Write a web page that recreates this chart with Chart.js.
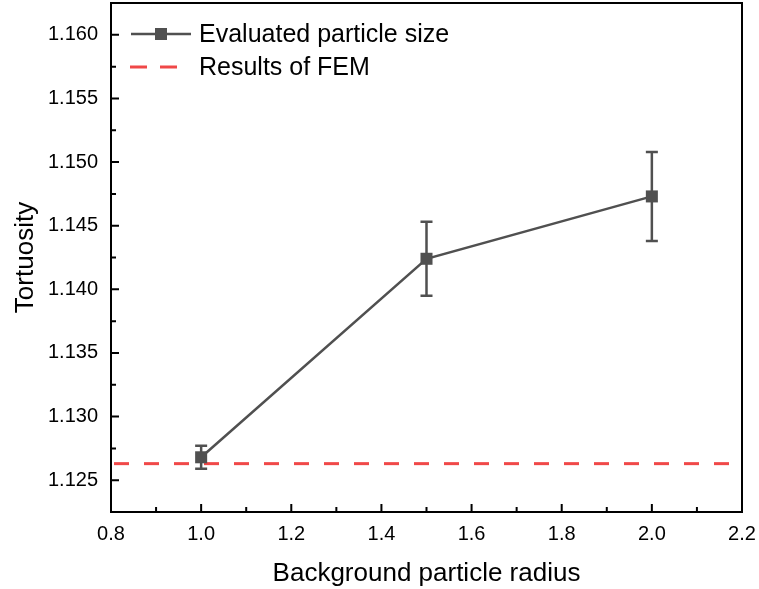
<!DOCTYPE html>
<html>
<head>
<meta charset="utf-8">
<script src="https://cdn.jsdelivr.net/npm/chart.js@4.4.0/dist/chart.umd.min.js"></script>
<style>
  html, body { margin: 0; padding: 0; background: #fff; }
  canvas { display: block; }
</style>
</head>
<body>
<canvas id="myChart" width="759" height="589"></canvas>
<script>
// background particle radius and evaluated tortuosity (mean +/- error)
var radius = [1.0, 1.5, 2.0];
var tortuosity = [1.1268, 1.1424, 1.1473];
var tortuosityErr = [0.0009, 0.0029, 0.0035];
var femValue = 1.1263;

var xTicks = [0.8, 1.0, 1.2, 1.4, 1.6, 1.8, 2.0, 2.2];
var xTickLabels = ['0.8', '1.0', '1.2', '1.4', '1.6', '1.8', '2.0', '2.2'];
var yTicks = [1.125, 1.130, 1.135, 1.140, 1.145, 1.150, 1.155, 1.160];
var yTickLabels = ['1.125', '1.130', '1.135', '1.140', '1.145', '1.150', '1.155', '1.160'];

var seriesLabels = ['Evaluated particle size', 'Results of FEM'];

var FONT = "'Liberation Sans', Arial, Helvetica, sans-serif";
var GREY = '#505050';
var RED = '#f04848';

var xMin = 0.8, xMax = 2.2;
var yMin = 1.1225, yMax = 1.1625;

// no extra room for edge labels, the frame sits where the layout padding puts it
function noEdgePadding(scale) {
    scale.paddingLeft = 0;
    scale.paddingRight = 0;
    scale.paddingTop = 0;
    scale.paddingBottom = 0;
}

// frame, inward ticks (major + minor) and error bars
var decorations = {
    id: 'decorations',
    beforeDatasetsDraw: function (chart) {
        var ctx = chart.ctx;
        var xs = chart.scales.x, ys = chart.scales.y;
        ctx.save();
        ctx.strokeStyle = GREY;
        ctx.lineWidth = 2.5;
        for (var i = 0; i < radius.length; i++) {
            var px = xs.getPixelForValue(radius[i]);
            var top = ys.getPixelForValue(tortuosity[i] + tortuosityErr[i]);
            var bot = ys.getPixelForValue(tortuosity[i] - tortuosityErr[i]);
            ctx.beginPath();
            ctx.moveTo(px, top); ctx.lineTo(px, bot);
            ctx.moveTo(px - 6, top); ctx.lineTo(px + 6, top);
            ctx.moveTo(px - 6, bot); ctx.lineTo(px + 6, bot);
            ctx.stroke();
        }
        ctx.restore();
    },
    afterDatasetsDraw: function (chart) {
        var ctx = chart.ctx;
        var a = chart.chartArea;
        var xs = chart.scales.x, ys = chart.scales.y;
        ctx.save();
        ctx.strokeStyle = '#000';
        ctx.lineWidth = 2;
        ctx.beginPath();
        var i, p;
        for (i = 0; i < xTicks.length; i++) {
            p = xs.getPixelForValue(xTicks[i]);
            ctx.moveTo(p, a.bottom); ctx.lineTo(p, a.bottom - 8);
            if (i < xTicks.length - 1) {
                p = xs.getPixelForValue((xTicks[i] + xTicks[i + 1]) / 2);
                ctx.moveTo(p, a.bottom); ctx.lineTo(p, a.bottom - 5);
            }
        }
        for (i = 0; i < yTicks.length; i++) {
            p = ys.getPixelForValue(yTicks[i]);
            ctx.moveTo(a.left, p); ctx.lineTo(a.left + 8, p);
            p = ys.getPixelForValue(yTicks[i] - 0.0025);
            ctx.moveTo(a.left, p); ctx.lineTo(a.left + 5, p);
        }
        p = ys.getPixelForValue(yTicks[yTicks.length - 1] + 0.0025);
        ctx.moveTo(a.left, p); ctx.lineTo(a.left + 5, p);
        ctx.stroke();
        ctx.strokeRect(a.left, a.top, a.right - a.left, a.bottom - a.top);
        ctx.restore();
    },
    afterDraw: function (chart) {
        // legend inside the plot, top left
        var ctx = chart.ctx;
        ctx.save();
        ctx.font = '25px ' + FONT;
        ctx.fillStyle = '#000';
        ctx.textBaseline = 'middle';

        ctx.strokeStyle = GREY;
        ctx.lineWidth = 2.5;
        ctx.beginPath();
        ctx.moveTo(131, 34); ctx.lineTo(191, 34);
        ctx.stroke();
        ctx.fillStyle = GREY;
        ctx.fillRect(155, 28, 12, 12);
        ctx.fillStyle = '#000';
        ctx.fillText(seriesLabels[0], 199, 35);

        ctx.strokeStyle = RED;
        ctx.lineWidth = 3;
        ctx.setLineDash([17, 13]);
        ctx.beginPath();
        ctx.moveTo(130, 67); ctx.lineTo(177, 67);
        ctx.stroke();
        ctx.setLineDash([]);
        ctx.fillText(seriesLabels[1], 199, 68);
        ctx.restore();
    }
};

var ctx = document.getElementById('myChart').getContext('2d');

var chart = new Chart(ctx, {
    type: 'line',
    data: {
        datasets: [{
            label: seriesLabels[0],
            data: radius.map(function (r, i) { return { x: r, y: tortuosity[i] }; }),
            borderColor: GREY,
            backgroundColor: GREY,
            borderWidth: 2.5,
            pointStyle: 'rect',
            pointRadius: 8.5,
            pointBorderWidth: 0,
            tension: 0
        }, {
            label: seriesLabels[1],
            data: [{ x: xMin, y: femValue }, { x: xMax, y: femValue }],
            borderColor: RED,
            borderWidth: 3,
            borderDash: [15, 15],
            borderDashOffset: 27,
            pointRadius: 0
        }]
    },
    options: {
        responsive: false,
        animation: false,
        layout: {
            autoPadding: false,
            padding: { left: 0, right: 17, top: 3, bottom: 0 }
        },
        plugins: {
            legend: { display: false },
            tooltip: { enabled: false }
        },
        scales: {
            x: {
                type: 'linear',
                min: xMin,
                max: xMax,
                afterBuildTicks: function (scale) {
                    scale.ticks = xTicks.map(function (v) { return { value: v }; });
                },
                afterFit: function (scale) {
                    scale.height = 77;
                    noEdgePadding(scale);
                },
                grid: { display: false, drawTicks: false },
                border: { display: false },
                ticks: {
                    autoSkip: false,
                    maxRotation: 0,
                    padding: 10,
                    color: '#000',
                    font: { family: FONT, size: 20 },
                    callback: function (v, i) { return xTickLabels[i]; }
                },
                title: {
                    display: true,
                    text: 'Background particle radius',
                    color: '#000',
                    font: { family: FONT, size: 26 },
                    padding: { top: 0, bottom: 0 }
                }
            },
            y: {
                type: 'linear',
                min: yMin,
                max: yMax,
                afterBuildTicks: function (scale) {
                    scale.ticks = yTicks.map(function (v) { return { value: v }; });
                },
                afterFit: function (scale) {
                    scale.width = 111;
                    noEdgePadding(scale);
                },
                grid: { display: false, drawTicks: false },
                border: { display: false },
                ticks: {
                    padding: 13,
                    color: '#000',
                    font: { family: FONT, size: 20 },
                    callback: function (v, i) { return yTickLabels[i]; }
                },
                title: {
                    display: true,
                    text: 'Tortuosity',
                    color: '#000',
                    font: { family: FONT, size: 26 },
                    padding: { top: 10, bottom: 0 }
                }
            }
        }
    },
    plugins: [decorations]
});
</script>
</body>
</html>
